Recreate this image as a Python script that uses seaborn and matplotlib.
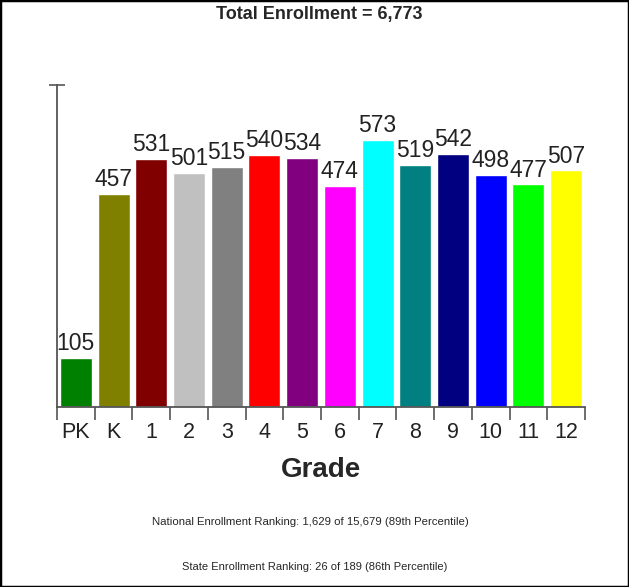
import matplotlib
matplotlib.use('Agg')
import numpy as np
import pandas as pd
import seaborn as sns
from matplotlib import pyplot as plt
from matplotlib.patches import Rectangle

# data
grades = ['PK', 'K', '1', '2', '3', '4', '5', '6', '7', '8', '9', '10', '11', '12']
enrollment = [105, 457, 531, 501, 515, 540, 534, 474, 573, 519, 542, 498, 477, 507]
bar_colors = ['#008000', '#808000', '#800000', '#C0C0C0', '#808080', '#FF0000', '#800080',
              '#FF00FF', '#00FFFF', '#008080', '#000080', '#0000FF', '#00FF00', '#FFFF00']
title = 'Total Enrollment = 6,773'
national_note = 'National Enrollment Ranking: 1,629 of 15,679 (89th Percentile)'
state_note = 'State Enrollment Ranking: 26 of 189 (86th Percentile)'

sns.set_style('white')
plt.rcParams['font.family'] = ['Liberation Sans', 'DejaVu Sans']

df = pd.DataFrame({'grade': grades, 'count': enrollment})

fig = plt.figure(figsize=(6.29, 5.87), dpi=100)
ax = fig.add_axes([57 / 629, 1 - 407 / 587, 528 / 629, 322 / 587])

sns.barplot(data=df, x='grade', y='count', hue='grade', palette=bar_colors,
            width=0.85, legend=False, saturation=1, ax=ax)

for cont in ax.containers:
    ax.bar_label(cont, padding=2, fontsize=16.5, color='#222222')

ax.set_xlim(-0.5, len(grades) - 0.5)
ax.set_ylim(0, 690)
ax.set_yticks([690])
ax.set_yticklabels([])
ax.set_xticks(np.arange(-0.5, len(grades), 1), minor=True)

axis_color = '#555555'
for side in ['top', 'right']:
    ax.spines[side].set_visible(False)
for side in ['left', 'bottom']:
    ax.spines[side].set_color(axis_color)
    ax.spines[side].set_linewidth(1.3)

ax.tick_params(axis='x', which='major', bottom=False, length=0, labelsize=15.5, pad=11,
               labelcolor='#222222')
ax.tick_params(axis='x', which='minor', bottom=True, direction='out', length=9, width=1.2,
               color=axis_color)
ax.tick_params(axis='y', left=True, direction='inout', length=11, width=1.2, color=axis_color)

ax.set_xlabel('Grade', fontsize=20, fontweight='bold', labelpad=10)
ax.set_ylabel('')

fig.text(0.507, 1 - 14 / 587, title, ha='center', va='center', fontsize=13, fontweight='bold')
fig.text(0.494, 1 - 522 / 587, national_note, ha='center', va='center', fontsize=8.2)
fig.text(0.5, 1 - 567 / 587, state_note, ha='center', va='center', fontsize=8.0)

fig.patches.append(Rectangle((0, 0), 1, 1, transform=fig.transFigure, fill=False,
                             edgecolor='black', linewidth=2.5))

plt.savefig('out.png', dpi=100)
